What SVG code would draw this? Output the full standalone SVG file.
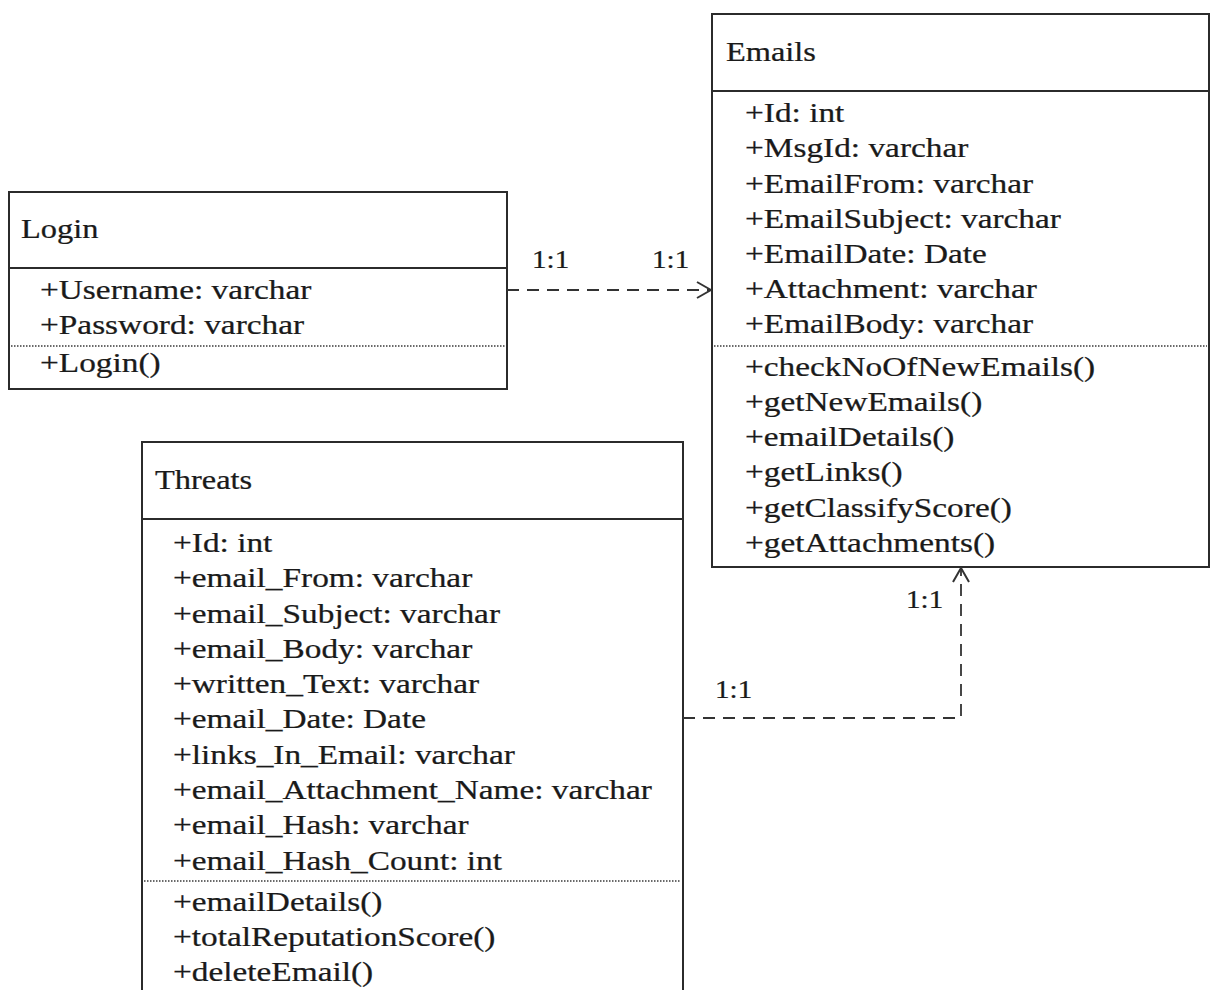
<svg xmlns="http://www.w3.org/2000/svg" width="1213" height="990" viewBox="0 0 1213 990">
  <style>
    .box { fill: #ffffff; stroke: #2b2b2b; stroke-width: 2; }
    .div { stroke: #2b2b2b; stroke-width: 2; }
    .dot { stroke: #3a3a3a; stroke-width: 1.5; stroke-dasharray: 1.5 1.5; }
    .t { font-family: "Liberation Serif", "Times New Roman", serif; font-size: 27px; fill: #1a1a1a; stroke: #1a1a1a; stroke-width: 0.25; }
    .lbl { font-family: "Liberation Serif", "Times New Roman", serif; font-size: 26px; fill: #1a1a1a; stroke: #1a1a1a; stroke-width: 0.25; }
    .link { fill: none; stroke: #333333; stroke-width: 1.8; stroke-dasharray: 12 8; }
  </style>
  <defs>
    <marker id="open" viewBox="0 0 16 18" refX="15" refY="9" markerWidth="16" markerHeight="18" markerUnits="userSpaceOnUse" orient="auto">
      <polyline points="1,1 15,9 1,17" fill="none" stroke="#333333" stroke-width="2"/>
    </marker>
  </defs>
  <rect width="1213" height="990" fill="#ffffff"/>

  <!-- Login class -->
  <g id="login">
    <rect class="box" x="9" y="192" width="498" height="197"/>
    <line class="div" x1="9" y1="268" x2="507" y2="268"/>
    <line class="dot" x1="11" y1="346" x2="505" y2="346"/>
    <g transform="translate(21,0) scale(1.2,1)"><text class="t" x="0" y="238">Login</text></g>
    <g transform="translate(40,0) scale(1.235,1)">
      <text class="t" x="0" y="299">+Username: varchar</text>
      <text class="t" x="0" y="334">+Password: varchar</text>
      <text class="t" x="0" y="372">+Login()</text>
    </g>
  </g>

  <!-- Emails class -->
  <g id="emails">
    <rect class="box" x="712" y="14" width="497" height="553"/>
    <line class="div" x1="712" y1="91" x2="1209" y2="91"/>
    <line class="dot" x1="714" y1="346" x2="1207" y2="346"/>
    <g transform="translate(726,0) scale(1.2,1)"><text class="t" x="0" y="61">Emails</text></g>
    <g transform="translate(745,0) scale(1.235,1)">
      <text class="t" x="0" y="122">+Id: int</text>
      <text class="t" x="0" y="157">+MsgId: varchar</text>
      <text class="t" x="0" y="193">+EmailFrom: varchar</text>
      <text class="t" x="0" y="228">+EmailSubject: varchar</text>
      <text class="t" x="0" y="263">+EmailDate: Date</text>
      <text class="t" x="0" y="298">+Attachment: varchar</text>
      <text class="t" x="0" y="333">+EmailBody: varchar</text>
      <text class="t" x="0" y="376">+checkNoOfNewEmails()</text>
      <text class="t" x="0" y="411">+getNewEmails()</text>
      <text class="t" x="0" y="446">+emailDetails()</text>
      <text class="t" x="0" y="481">+getLinks()</text>
      <text class="t" x="0" y="517">+getClassifyScore()</text>
      <text class="t" x="0" y="552">+getAttachments()</text>
    </g>
  </g>

  <!-- Threats class -->
  <g id="threats">
    <rect class="box" x="142" y="442" width="541" height="560"/>
    <line class="div" x1="142" y1="519" x2="683" y2="519"/>
    <line class="dot" x1="144" y1="881" x2="681" y2="881"/>
    <g transform="translate(155,0) scale(1.2,1)"><text class="t" x="0" y="489">Threats</text></g>
    <g transform="translate(173,0) scale(1.235,1)">
      <text class="t" x="0" y="552">+Id: int</text>
      <text class="t" x="0" y="587">+email_From: varchar</text>
      <text class="t" x="0" y="623">+email_Subject: varchar</text>
      <text class="t" x="0" y="658">+email_Body: varchar</text>
      <text class="t" x="0" y="693">+written_Text: varchar</text>
      <text class="t" x="0" y="728">+email_Date: Date</text>
      <text class="t" x="0" y="764">+links_In_Email: varchar</text>
      <text class="t" x="0" y="799">+email_Attachment_Name: varchar</text>
      <text class="t" x="0" y="834">+email_Hash: varchar</text>
      <text class="t" x="0" y="870">+email_Hash_Count: int</text>
      <text class="t" x="0" y="911">+emailDetails()</text>
      <text class="t" x="0" y="946">+totalReputationScore()</text>
      <text class="t" x="0" y="981">+deleteEmail()</text>
    </g>
  </g>

  <!-- Associations -->
  <g id="connectors">
    <path class="link" d="M507,290 H711" marker-end="url(#open)"/>
    <path class="link" d="M683,718 H961 V568" marker-end="url(#open)"/>
    <g transform="translate(532,0) scale(1.12,1)"><text class="lbl" x="0" y="268">1:1</text></g>
    <g transform="translate(652,0) scale(1.12,1)"><text class="lbl" x="0" y="268">1:1</text></g>
    <g transform="translate(906,0) scale(1.12,1)"><text class="lbl" x="0" y="608">1:1</text></g>
    <g transform="translate(715,0) scale(1.12,1)"><text class="lbl" x="0" y="698">1:1</text></g>
  </g>
</svg>
